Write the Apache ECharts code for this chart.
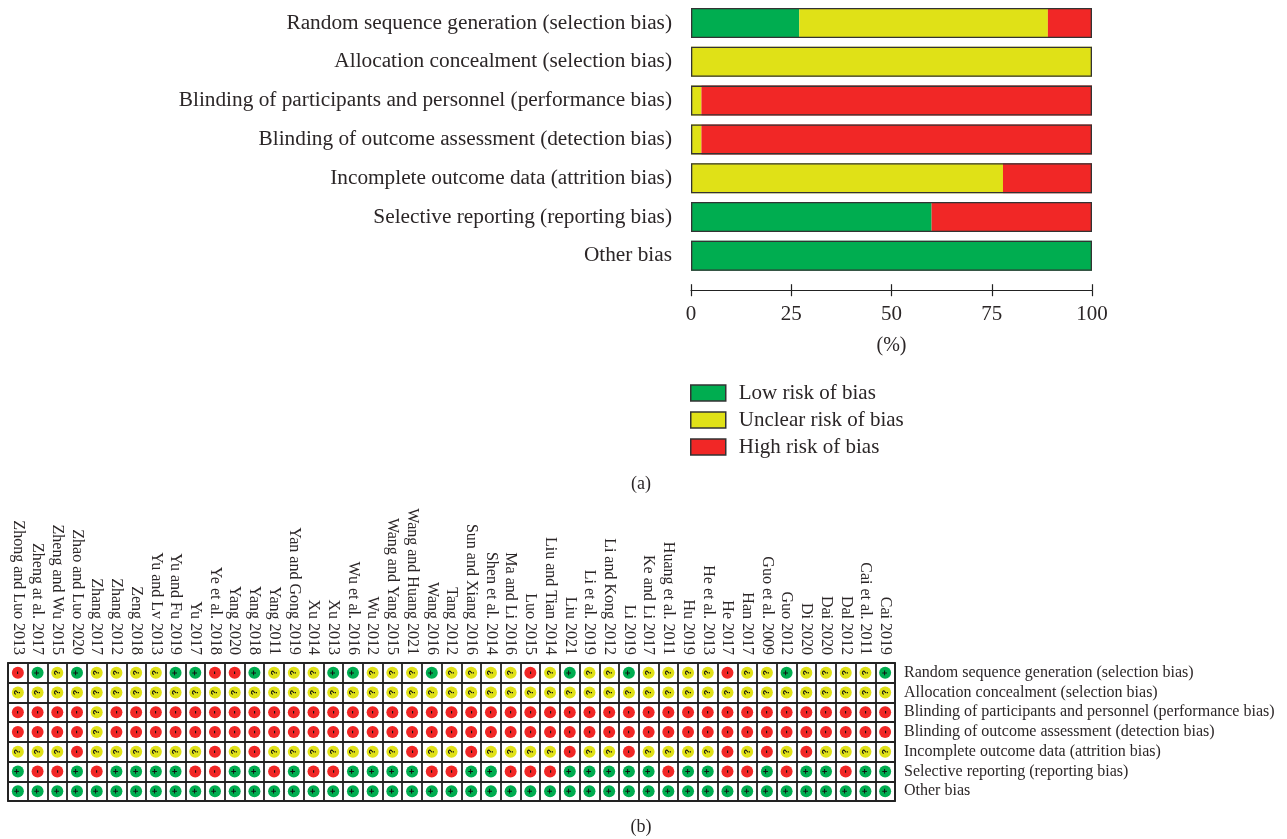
<!DOCTYPE html>
<html>
<head>
<meta charset="utf-8">
<style>html,body{margin:0;padding:0;background:#fff}#c{width:1287px;height:839px}</style>
<script src="https://cdn.jsdelivr.net/npm/echarts@6/dist/echarts.min.js"></script>
</head>
<body>
<div id="c"></div>
<script>
const domains = [
  'Random sequence generation (selection bias)',
  'Allocation concealment (selection bias)',
  'Blinding of participants and personnel (performance bias)',
  'Blinding of outcome assessment (detection bias)',
  'Incomplete outcome data (attrition bias)',
  'Selective reporting (reporting bias)',
  'Other bias'
];
const lowRisk     = [27, 0, 0, 0, 0, 60, 100];
const unclearRisk = [62, 100, 2.6, 2.6, 77.8, 0, 0];
const highRisk    = [11, 0, 97.4, 97.4, 22.2, 40, 0];
const barOutline  = [100, 100, 100, 100, 100, 100, 100];

const studies = [
  'Zhong and Luo 2013','Zheng at al. 2017','Zheng and Wu 2015','Zhao and Luo 2020','Zhang 2017',
  'Zhang 2012','Zeng 2018','Yu and Lv 2013','Yu and Fu 2019','Yu 2017',
  'Ye et al. 2018','Yang 2020','Yang 2018','Yang 2011','Yan and Gong 2019',
  'Xu 2014','Xu 2013','Wu et al. 2016','Wu 2012','Wang and Yang 2015',
  'Wang and Huang 2021','Wang 2016','Tang 2012','Sun and Xiang 2016','Shen et al. 2014',
  'Ma and Li 2016','Luo 2015','Liu and Tian 2014','Liu 2021','Li et al. 2019',
  'Li and Kong 2012','Li 2019','Ke and Li 2017','Huang et al. 2011','Hu 2019',
  'He et al. 2013','He 2017','Han 2017','Guo et al. 2009','Guo 2012',
  'Di 2020','Dai 2020','Dal 2012','Cai et al. 2011','Cai 2019'
];
// One string per domain, one character per study, in study order
const rowSequence   = '-+?+????++--+??' + '?++???+????-?+?' + '?+????-??+????+';
const rowAllocation = '???????????????' + '???????????????' + '???????????????';
const rowBlindPart  = '----?----------' + '---------------' + '---------------';
const rowBlindOut   = '----?----------' + '---------------' + '---------------';
const rowIncomplete = '???-??????-?-??' + '?????-??-????-?' + '?-????-?-?-????';
const rowSelective  = '+--+-++++--++-+' + '--++++--++---++' + '+++-++--+-++-++';
const rowOther      = '+++++++++++++++' + '+++++++++++++++' + '+++++++++++++++';
const judgementRows = [rowSequence, rowAllocation, rowBlindPart, rowBlindOut, rowIncomplete, rowSelective, rowOther];

const GREEN = '#00ad50', YELLOW = '#e0e117', RED = '#f12726', INK = '#2b2627';
const FONT = '"Liberation Serif", serif';
const judgementColor = {'+': GREEN, '?': YELLOW, '-': RED};

const cells = [];
judgementRows.forEach((row, r) => Array.from(row).forEach((j, c) => cells.push([c, r, j])));

const stacked = (name, data, color) => ({
  name, type: 'bar', stack: 'risk', data, barWidth: 30, xAxisIndex: 0, yAxisIndex: 0,
  itemStyle: {color}, silent: true
});

const option = {
  animation: false,
  backgroundColor: '#fff',
  textStyle: {fontFamily: FONT, color: INK},
  title: [
    {text: '(a)', left: 641, top: 475, padding: 0, textAlign: 'center', textStyle: {fontFamily: FONT, fontSize: 18, fontWeight: 'normal', color: INK}},
    {text: '(b)', left: 641, top: 818, padding: 0, textAlign: 'center', textStyle: {fontFamily: FONT, fontSize: 18, fontWeight: 'normal', color: INK}}
  ],
  legend: {
    orient: 'vertical', left: 690, top: 382, padding: 0, itemWidth: 35, itemHeight: 16, itemGap: 5,
    data: ['Low risk of bias', 'Unclear risk of bias', 'High risk of bias'],
    itemStyle: {borderColor: '#333', borderWidth: 1.5},
    textStyle: {fontFamily: FONT, fontSize: 21, lineHeight: 22, color: INK, padding: [0, 0, 0, 8]},
    selectedMode: false, icon: 'rect'
  },
  grid: [
    {left: 691, top: 3.6, width: 401, height: 271.6},
    {left: 8, top: 663, width: 887, height: 138, show: true, borderColor: '#222', borderWidth: 1.8, backgroundColor: '#fff'}
  ],
  xAxis: [
    {type: 'value', gridIndex: 0, min: 0, max: 100, interval: 25, position: 'bottom', offset: 15,
     name: '(%)', nameLocation: 'middle', nameGap: 46,
     nameTextStyle: {fontFamily: FONT, fontSize: 20, color: INK},
     axisLine: {show: true, onZero: false, lineStyle: {color: '#222', width: 1.2}},
     axisTick: {show: true, length: 6, lineStyle: {color: '#222', width: 1.2}},
     axisLabel: {fontFamily: FONT, fontSize: 21, color: INK, margin: 14},
     splitLine: {show: false}},
    {type: 'value', gridIndex: 0, min: 0, max: 100, interval: 25, position: 'bottom', offset: 15,
     axisLine: {show: false, onZero: false},
     axisTick: {show: true, inside: true, length: 6, lineStyle: {color: '#222', width: 1.2}},
     axisLabel: {show: false}, splitLine: {show: false}},
    {type: 'category', gridIndex: 1, data: studies, position: 'top', boundaryGap: true,
     axisLine: {show: false}, axisTick: {show: false},
     axisLabel: {interval: 0, rotate: 90, fontFamily: FONT, fontSize: 16, color: INK, margin: 8},
     splitLine: {show: true, interval: 0, lineStyle: {color: '#222', width: 1.8}}}
  ],
  yAxis: [
    {type: 'category', gridIndex: 0, data: domains, inverse: true,
     axisLine: {show: false}, axisTick: {show: false},
     axisLabel: {fontFamily: FONT, fontSize: 21.3, color: INK, margin: 19}},
    {type: 'category', gridIndex: 1, data: domains, inverse: true, position: 'right', boundaryGap: true,
     axisLine: {show: false}, axisTick: {show: false},
     axisLabel: {interval: 0, fontFamily: FONT, fontSize: 16, color: INK, margin: 9},
     splitLine: {show: true, interval: 0, lineStyle: {color: '#222', width: 1.8}}}
  ],
  series: [
    stacked('Low risk of bias', lowRisk, GREEN),
    stacked('Unclear risk of bias', unclearRisk, YELLOW),
    stacked('High risk of bias', highRisk, RED),
    {name: 'outline', type: 'bar', stack: 'frame', data: barOutline, barWidth: 30, barGap: '-100%', z: 5,
     xAxisIndex: 0, yAxisIndex: 0, silent: true,
     itemStyle: {color: 'rgba(0,0,0,0)', borderColor: '#333', borderWidth: 1.3}},
    {name: 'judgements', type: 'scatter', xAxisIndex: 2, yAxisIndex: 1, data: cells, symbol: 'circle', symbolSize: 12,
     silent: true,
     encode: {x: 0, y: 1},
     itemStyle: {color: p => judgementColor[p.value[2]], opacity: 1},
     label: {show: true, position: 'inside', rotate: 90, formatter: p => p.value[2],
             fontFamily: '"Liberation Sans", sans-serif', fontSize: 9, fontWeight: 'bold', color: '#111'}}
  ]
};
echarts.init(document.getElementById('c'), null, {renderer: 'canvas'}).setOption(option);
</script>
</body>
</html>
